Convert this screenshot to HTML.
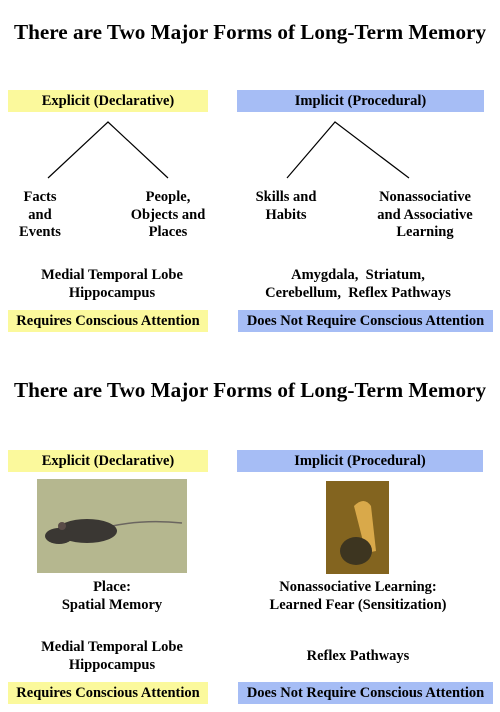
<!DOCTYPE html>
<html><head><meta charset="utf-8"><style>
body{margin:0;width:500px;height:712px;background:#fff;position:relative;overflow:hidden;font-family:"Liberation Serif",serif;font-weight:bold;color:#000}
.a{position:absolute;text-align:center;font-size:14.5px;line-height:17.5px;white-space:nowrap}
.t{position:absolute;left:0;width:500px;text-align:center;font-size:21.2px}
.y{position:absolute;background:#fbf99c;font-size:14.5px;text-align:center;line-height:22px}
.b{position:absolute;background:#a6bdf5;font-size:14.5px;text-align:center;line-height:22px}
</style></head><body>
<div class="t" style="top:20px">There are Two Major Forms of Long-Term Memory</div>
<div class="y" style="left:8px;top:90px;width:200px;height:22px">Explicit (Declarative)</div>
<div class="b" style="left:237px;top:90px;width:247px;height:22px">Implicit (Procedural)</div>
<svg style="position:absolute;left:0;top:0" width="500" height="200">
<path d="M48 178 L108 122 L168 178 M287 178 L335 122 L409 178" stroke="#000" stroke-width="1.2" fill="none"/></svg>
<div class="a" style="left:0;width:80px;top:189px">Facts<br>and<br>Events</div>
<div class="a" style="left:118px;width:100px;top:189px">People,<br>Objects and<br>Places</div>
<div class="a" style="left:236px;width:100px;top:189px">Skills and<br>Habits</div>
<div class="a" style="left:360px;width:130px;top:189px">Nonassociative<br>and Associative<br>Learning</div>
<div class="a" style="left:12px;width:200px;top:267px">Medial Temporal Lobe<br>Hippocampus</div>
<div class="a" style="left:238px;width:240px;top:267px">Amygdala,&nbsp; Striatum,<br>Cerebellum,&nbsp; Reflex Pathways</div>
<div class="y" style="left:8px;top:310px;width:200px;height:22px">Requires Conscious Attention</div>
<div class="b" style="left:238px;top:310px;width:255px;height:22px">Does Not Require Conscious Attention</div>
<div class="t" style="top:378px">There are Two Major Forms of Long-Term Memory</div>
<div class="y" style="left:8px;top:450px;width:200px;height:22px">Explicit (Declarative)</div>
<div class="b" style="left:237px;top:450px;width:246px;height:22px">Implicit (Procedural)</div>
<svg style="position:absolute;left:37px;top:479px" width="150" height="94">
<rect width="150" height="94" fill="#b5b78f"/>
<path d="M70 48 Q105 40 145 44" stroke="#6b6660" stroke-width="1.5" fill="none"/>
<ellipse cx="50" cy="52" rx="30" ry="12" fill="#3a3733"/>
<ellipse cx="22" cy="57" rx="14" ry="8" fill="#3a3733"/>
<circle cx="25" cy="47" r="4" fill="#5a4c48"/></svg>
<svg style="position:absolute;left:326px;top:481px" width="63" height="93">
<rect width="63" height="93" fill="#b58a2a"/>
<rect width="63" height="93" fill="#3a2a10" opacity=".4"/>
<path d="M28 25 Q38 15 45 25 L50 70 L40 72 Z" fill="#d9a94a"/>
<ellipse cx="30" cy="70" rx="16" ry="14" fill="#3d3520"/></svg>
<div class="a" style="left:12px;width:200px;top:579px">Place:<br>Spatial Memory</div>
<div class="a" style="left:238px;width:240px;top:579px">Nonassociative Learning:<br>Learned Fear (Sensitization)</div>
<div class="a" style="left:12px;width:200px;top:639px">Medial Temporal Lobe<br>Hippocampus</div>
<div class="a" style="left:238px;width:240px;top:648px">Reflex Pathways</div>
<div class="y" style="left:8px;top:682px;width:200px;height:22px">Requires Conscious Attention</div>
<div class="b" style="left:238px;top:682px;width:255px;height:22px">Does Not Require Conscious Attention</div>
</body></html>
